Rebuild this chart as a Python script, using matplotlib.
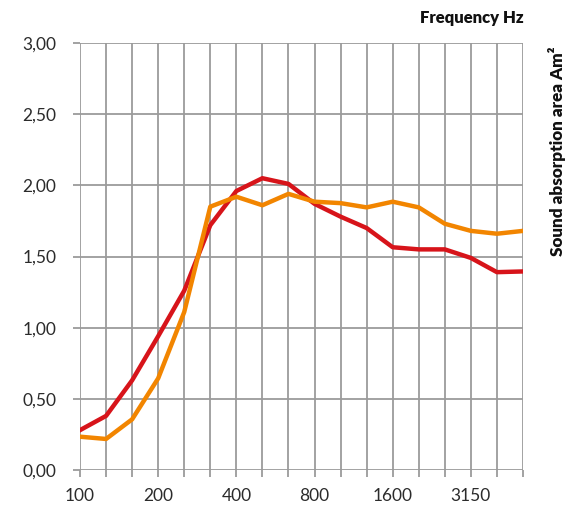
import matplotlib.pyplot as plt
import numpy as np

# third-octave bands
freqs = ['100', '125', '160', '200', '250', '315', '400', '500', '630',
         '800', '1000', '1250', '1600', '2000', '2500', '3150', '4000', '5000']
shown_labels = ['100', '200', '400', '800', '1600', '3150']

red_vals = [0.28, 0.38, 0.63, 0.94, 1.26, 1.72, 1.96, 2.05, 2.01,
            1.87, 1.78, 1.70, 1.565, 1.55, 1.55, 1.49, 1.39, 1.395]
orange_vals = [0.234, 0.218, 0.356, 0.644, 1.11, 1.85, 1.92, 1.86, 1.94,
               1.885, 1.875, 1.845, 1.885, 1.845, 1.73, 1.68, 1.66, 1.68]

yticks = [0.0, 0.5, 1.0, 1.5, 2.0, 2.5, 3.0]

plt.rcParams['font.family'] = ['Lato', 'DejaVu Sans']

fig = plt.figure(figsize=(5.65, 5.09), dpi=100)
ax = fig.add_axes([80 / 565, 1 - 470 / 509, 443 / 565, 427 / 509])

x = np.arange(len(freqs))
ax.plot(x, red_vals, color='#d7141a', lw=3.2, solid_joinstyle='round', zorder=3)
ax.plot(x, orange_vals, color='#f28500', lw=3.2, solid_joinstyle='round', zorder=3)

ax.set_xlim(0, len(freqs) - 1)
ax.set_ylim(0, 3)

grid_col = '#9b9b9b'
ax.set_xticks(x)
ax.set_xticklabels([f if f in shown_labels else '' for f in freqs])
ax.set_yticks(yticks)
ax.set_yticklabels([('%.2f' % v).replace('.', ',') for v in yticks])
ax.grid(True, color=grid_col, lw=1.3, zorder=1)
for s in ax.spines.values():
    s.set_visible(False)
ax.tick_params(axis='both', color=grid_col, width=1.3, length=5,
               labelsize=12.5, labelcolor='#2b2b2b')
ax.tick_params(axis='x', pad=8)
ax.tick_params(axis='y', pad=12)

fig.text(524 / 565, 1 - 18 / 509, 'Frequency Hz', ha='right', va='center',
         fontsize=12, fontweight='heavy', color='#111111')
fig.text(557 / 565, 1 - 151 / 509, 'Sound absorption area Am²', ha='center',
         va='center', rotation=90, fontsize=12.3, fontweight='heavy', color='#111111')

fig.savefig('out.png', dpi=100)
